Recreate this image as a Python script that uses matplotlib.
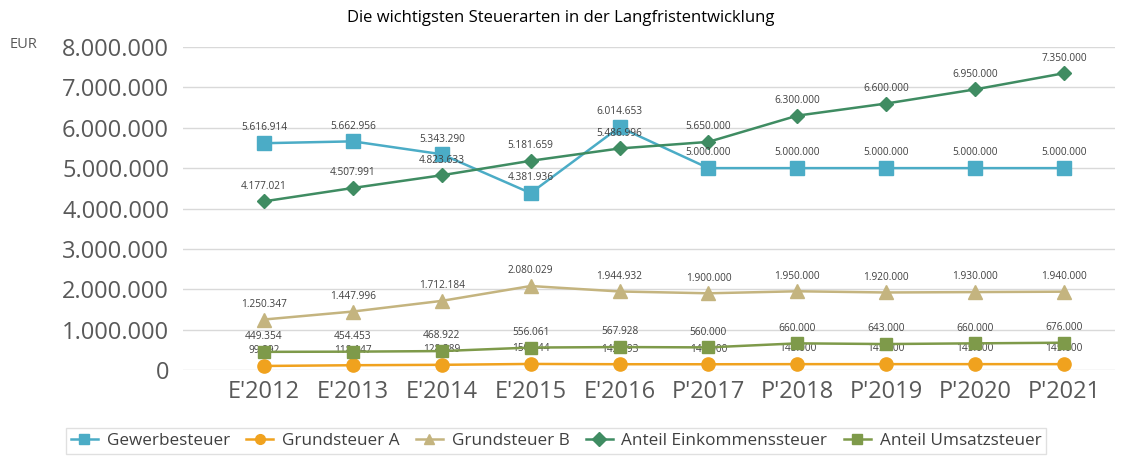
import matplotlib
matplotlib.use("Agg")
import matplotlib.pyplot as plt
from matplotlib.ticker import FuncFormatter

categories = ["E'2012", "E'2013", "E'2014", "E'2015", "E'2016",
              "P'2017", "P'2018", "P'2019", "P'2020", "P'2021"]
gewerbe = [5616914, 5662956, 5343290, 4381936, 6014653, 5000000, 5000000, 5000000, 5000000, 5000000]
grund_a = [99892, 118147, 128289, 150144, 142793, 142000, 145000, 145000, 145000, 145000]
grund_b = [1250347, 1447996, 1712184, 2080029, 1944932, 1900000, 1950000, 1920000, 1930000, 1940000]
einkommen = [4177021, 4507991, 4823633, 5181659, 5486996, 5650000, 6300000, 6600000, 6950000, 7350000]
umsatz = [449354, 454453, 468922, 556061, 567928, 560000, 660000, 643000, 660000, 676000]

series = [
    ("Gewerbesteuer", gewerbe, "#4BACC6", "s", 10),
    ("Grundsteuer A", grund_a, "#F0A21E", "o", 9.5),
    ("Grundsteuer B", grund_b, "#C4B47F", "^", 10),
    ("Anteil Einkommensteuer", einkommen, "#3F8C62", "D", 7.5),
    ("Anteil Umsatzsteuer", umsatz, "#7E9A4A", "s", 9),
]
legend_names = ["Gewerbesteuer", "Grundsteuer A", "Grundsteuer B",
                "Anteil Einkommenssteuer", "Anteil Umsatzsteuer"]

def de(v):
    return f"{int(v):,}".replace(",", ".")

plt.rcParams['font.family'] = ['Open Sans', 'DejaVu Sans']

W, H = 1137, 461
fig = plt.figure(figsize=(W / 100, H / 100), dpi=100)
left, right, top, bottom = 183, 1115, 47, 370
ax = fig.add_axes([left / W, 1 - bottom / H, (right - left) / W, (bottom - top) / H])

x = list(range(len(categories)))
lines = []
zorders = [4, 3, 4, 4, 5]
for (name, vals, col, mk, ms), lab, z in zip(series, legend_names, zorders):
    ln, = ax.plot(x, vals, color=col, marker=mk, markersize=ms, linewidth=1.8,
                  label=lab, zorder=z, clip_on=False)
    lines.append(ln)
    for xi, v in zip(x, vals):
        ax.annotate(de(v), (xi, v), xytext=(0, 7), textcoords="offset points",
                    ha="center", va="bottom", fontsize=7.3, color="#404040",
                    zorder=z - 0.5 if name == "Grundsteuer A" else 6)

# x limits so that first point at 264px and last at 1064px
ppu = (1064 - 264) / 9
ax.set_xlim(-(264 - left) / ppu, 9 + (right - 1064) / ppu)
ax.set_ylim(0, 8000000)
ax.set_yticks(range(0, 8000001, 1000000))
ax.yaxis.set_major_formatter(FuncFormatter(lambda v, p: de(v)))
ax.set_xticks(x)
ax.set_xticklabels(categories)
ax.tick_params(axis='both', length=0, labelsize=17, colors="#595959")
ax.tick_params(axis='x', pad=7)
ax.tick_params(axis='y', pad=10)
ax.grid(axis='y', color="#D9D9D9", linewidth=1.0)
ax.set_axisbelow(True)
for s in ax.spines.values():
    s.set_visible(False)

fig.text(561 / W, 1 - 18 / H, "Die wichtigsten Steuerarten in der Langfristentwicklung",
         ha="center", va="center", fontsize=12.0, color="#000000")
fig.text(24 / W, 1 - 45 / H, "EUR", ha="center", va="center", fontsize=10.5, color="#595959")

leg = fig.legend(handles=lines, loc="center", bbox_to_anchor=(556 / W, 1 - 441 / H),
                 ncol=5, frameon=True, fontsize=12.3, handlelength=1.6,
                 handletextpad=0.5, columnspacing=0.95, borderpad=0.3,
                 fancybox=False, edgecolor="#D9D9D9", labelcolor="#404040")
for h in leg.legend_handles:
    h.set_markersize(7)

fig.savefig("out.png", dpi=100)
